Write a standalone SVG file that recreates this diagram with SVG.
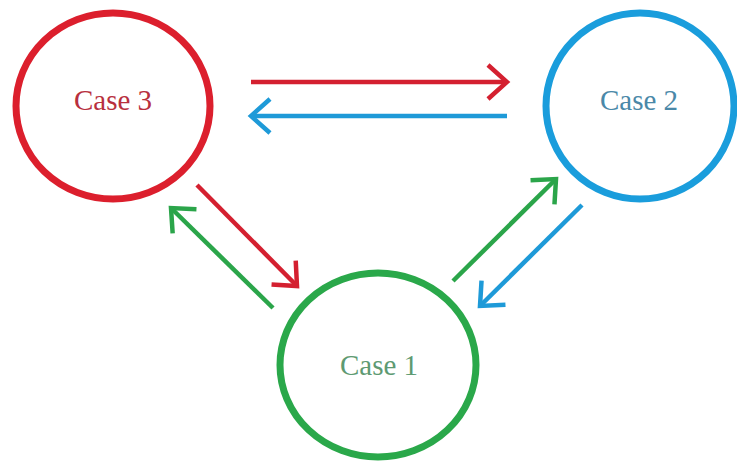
<svg xmlns="http://www.w3.org/2000/svg" width="737" height="465" viewBox="0 0 737 465">
  <style>
    .node { fill: none; stroke-width: 7; }
    .label { font-family: "Liberation Serif", "Times New Roman", serif; font-size: 29px; text-anchor: middle; }
    .edge { fill: none; stroke-width: 4.5; stroke-linecap: butt; }
    .red { stroke: #d42030; }
    .blue { stroke: #1e9ad8; }
    .green { stroke: #2ba54a; }
  </style>
  <defs>
    <marker id="head-red" markerUnits="userSpaceOnUse" orient="auto" overflow="visible" markerWidth="1" markerHeight="1">
      <path d="M-19,-17 L0,0 L-19,17" fill="none" stroke="#d42030" stroke-width="4.5" stroke-linejoin="miter"/>
    </marker>
    <marker id="head-blue" markerUnits="userSpaceOnUse" orient="auto" overflow="visible" markerWidth="1" markerHeight="1">
      <path d="M-19,-17 L0,0 L-19,17" fill="none" stroke="#1e9ad8" stroke-width="4.5" stroke-linejoin="miter"/>
    </marker>
    <marker id="head-green" markerUnits="userSpaceOnUse" orient="auto" overflow="visible" markerWidth="1" markerHeight="1">
      <path d="M-19,-17 L0,0 L-19,17" fill="none" stroke="#2ba54a" stroke-width="4.5" stroke-linejoin="miter"/>
    </marker>
  </defs>
  <rect width="737" height="465" fill="#ffffff"/>

  <g id="case3">
    <ellipse class="node" cx="113" cy="106" rx="97" ry="93" stroke="#dc1f2d"/>
    <text class="label" x="113" y="110" fill="#b8303e">Case 3</text>
  </g>

  <g id="case2">
    <ellipse class="node" cx="640" cy="106" rx="94" ry="93" stroke="#1a9ddc"/>
    <text class="label" x="639" y="110" fill="#4a88a8">Case 2</text>
  </g>

  <g id="case1">
    <ellipse class="node" cx="378" cy="365" rx="98" ry="92" stroke="#2aa84a"/>
    <text class="label" x="379" y="375" fill="#5e9a72">Case 1</text>
  </g>

  <g id="connectors">
    <line class="edge red" x1="251" y1="82" x2="507" y2="82" marker-end="url(#head-red)"/>
    <line class="edge blue" x1="507" y1="116" x2="251" y2="116" marker-end="url(#head-blue)"/>
    <line class="edge red" x1="197" y1="185" x2="297" y2="286" marker-end="url(#head-red)"/>
    <line class="edge green" x1="273" y1="308" x2="171" y2="208" marker-end="url(#head-green)"/>
    <line class="edge green" x1="453" y1="281" x2="556" y2="179" marker-end="url(#head-green)"/>
    <line class="edge blue" x1="582" y1="205" x2="480" y2="306" marker-end="url(#head-blue)"/>
  </g>
</svg>
